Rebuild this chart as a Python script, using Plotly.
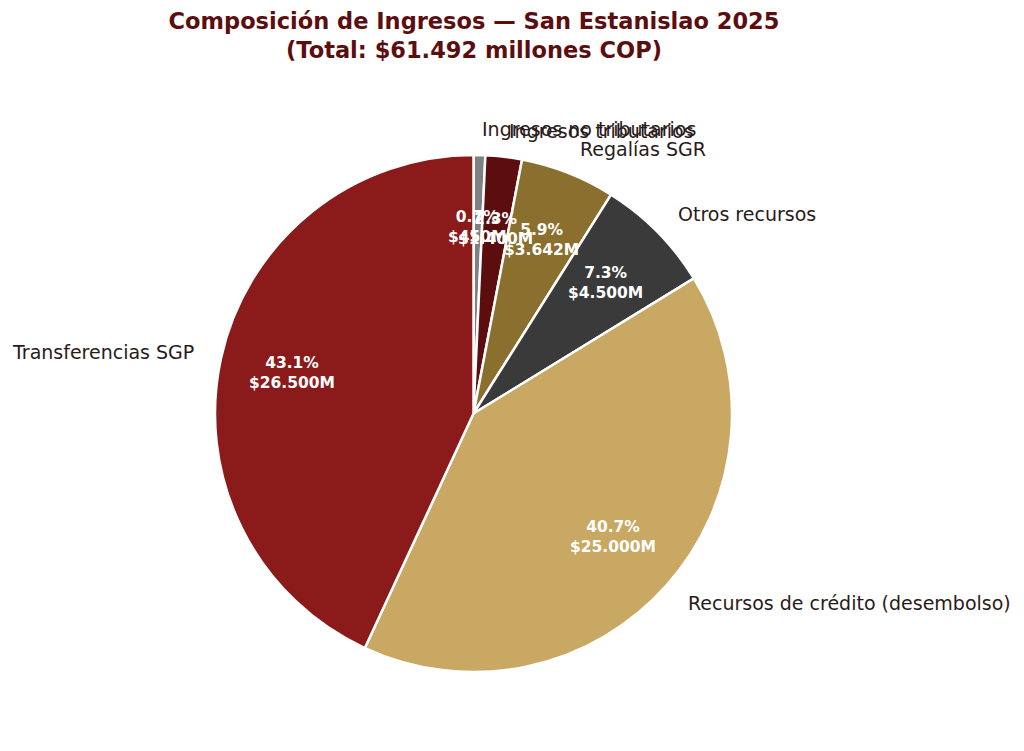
import plotly.graph_objects as go
import numpy as np

# ingresos San Estanislao 2025 (millones COP)
labels = ["Transferencias SGP", "Recursos de crédito (desembolso)", "Otros recursos",
          "Regalías SGR", "Ingresos tributarios", "Ingresos no tributarios"]
values = [26500, 25000, 4500, 3642, 1400, 450]
colors = ["#8B1A1A", "#C8A862", "#3A3A3A", "#8B6F2E", "#5C0E0E", "#808080"]

W, H = 1024, 751
off = 8   # margen del body del html
cx, cy, r = 473.5 - off, 413.5 - off, 258.5   # centro y radio del pie en px

fig = go.Figure()
# plotly: sentido horario con orden invertido = antihorario desde las 12 como matplotlib
fig.add_trace(go.Pie(
    labels=labels[::-1], values=values[::-1], sort=False, direction="clockwise", rotation=0,
    marker=dict(colors=colors[::-1], line=dict(color="white", width=2.5)),
    textinfo="none", hoverinfo="label+value+percent", showlegend=False,
    domain=dict(x=[(cx - r) / W, (cx + r) / W], y=[(H - cy - r) / H, (H - cy + r) / H]),
))

# etiquetas estilo matplotlib (labeldistance 1.1, pctdistance ~0.72)
total = sum(values)
cum = np.cumsum([0] + values[:-1])
for lab, v, c0 in zip(labels, values, cum):
    ang = np.deg2rad(90 + 360 * (c0 + v / 2) / total)
    lx = cx + 1.1 * r * np.cos(ang)
    ly = cy - 1.1 * r * np.sin(ang)
    fig.add_annotation(x=lx / W, y=1 - ly / H, xref="paper", yref="paper", text=lab,
                       showarrow=False, xanchor="right" if np.cos(ang) < 0 else "left",
                       yanchor="middle", font=dict(size=19, color="#2A1A1A"))
    px = cx + 0.72 * r * np.cos(ang)
    py = cy - 0.72 * r * np.sin(ang)
    txt = f"<b>{100 * v / total:.1f}%<br>${v:,.0f}M</b>".replace(",", ".")
    fig.add_annotation(x=px / W, y=1 - py / H, xref="paper", yref="paper", text=txt,
                       showarrow=False, xanchor="center", yanchor="middle",
                       font=dict(size=15.5, color="white"))

fig.update_layout(
    width=W, height=H, paper_bgcolor="white", plot_bgcolor="white",
    margin=dict(l=0, r=0, t=0, b=0),
    font=dict(family="DejaVu Sans"),
    title=dict(text="<b>Composición de Ingresos — San Estanislao 2025<br>(Total: $61.492 millones COP)</b>",
               x=(474 - off) / W, xanchor="center", y=0.972, yanchor="top",
               font=dict(size=22.5, color="#5C0E0E")),
)

fig.write_html("out.html")
